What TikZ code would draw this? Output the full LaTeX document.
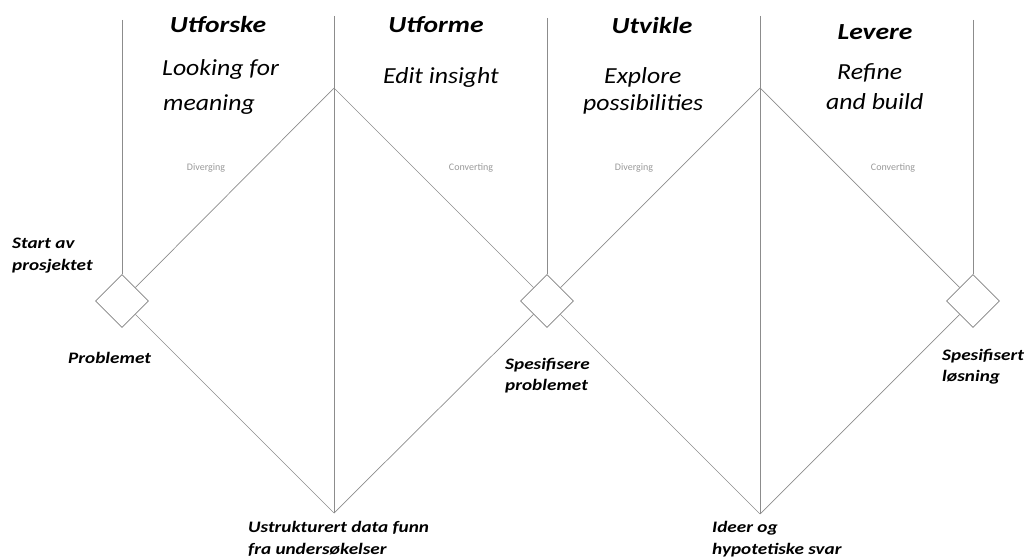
\documentclass[tikz,border=0pt]{standalone}
\usepackage{fontspec}
\setmainfont{Carlito}
\newfontfamily\labfont{Carlito}[FakeStretch=1.2,BoldItalicFont={Carlito Bold Italic}]
\newfontfamily\subfont{Carlito}[FakeStretch=1.12]
\usetikzlibrary{shapes.geometric}
\begin{document}
\begin{tikzpicture}[x=1pt,y=-1pt,
  ln/.style={draw=black!45,line width=0.7pt},
  dia/.style={diamond,draw=black!50,line width=0.7pt,inner sep=0pt,minimum width=53pt,minimum height=53pt,aspect=1},
  head/.style={font=\labfont\fontsize{23}{23}\selectfont\bfseries\itshape,anchor=base,inner sep=0pt},
  sub/.style={font=\subfont\fontsize{23}{23}\selectfont\itshape,anchor=base west,inner sep=0pt},
  lab/.style={font=\labfont\fontsize{16}{16}\selectfont\bfseries\itshape,anchor=base west,inner sep=0pt},
  tiny/.style={font=\fontsize{10}{10}\selectfont,text=black!40,inner sep=0pt}]
\useasboundingbox (0,0) rectangle (1029,559);
% diamonds
\node[dia] (d1) at (122,301) {};
\node[dia] (d2) at (547,301) {};
\node[dia] (d3) at (973,301) {};
% apexes and tops
\coordinate (a1) at (334,88);
\coordinate (a2) at (760,88);
\coordinate (b1) at (334,513);
\coordinate (b2) at (760,514);
\coordinate (t1) at (122,20);
\coordinate (t2) at (334,16);
\coordinate (t3) at (547,18);
\coordinate (t4) at (760,16);
\coordinate (t5) at (973,20);
% vertical lines
\draw[ln] (t1) -- (d1.north);
\draw[ln] (t2) -- (b1);
\draw[ln] (t3) -- (d2.north);
\draw[ln] (t4) -- (b2);
\draw[ln] (t5) -- (d3.north);
% diamond edges
\draw[ln] (d1) -- (a1);
\draw[ln] (d1) -- (b1);
\draw[ln] (a1) -- (d2);
\draw[ln] (b1) -- (d2);
\draw[ln] (d2) -- (a2);
\draw[ln] (d2) -- (b2);
\draw[ln] (a2) -- (d3);
\draw[ln] (b2) -- (d3);
% headings
\node[head] (h1) at (218,33) {Utforske};
\node[head] (h2) at (436,33) {Utforme};
\node[head] (h3) at (652,34) {Utvikle};
\node[head] (h4) at (875,40) {Levere};
\node[sub] (s1a) at (162,76) {Looking for};
\node[sub] (s1b) at (163,111) {meaning};
\node[sub] (s2) at (383,84) {Edit insight};
\node[sub] (s3a) at (604,84) {Explore};
\node[sub] (s3b) at (583,111) {possibilities};
\node[sub] (s4a) at (837,80) {Refine};
\node[sub] (s4b) at (826,110) {and build};
% small labels
\node[tiny] (g1) at (206,168) {Diverging};
\node[tiny] (g2) at (471,168) {Converting};
\node[tiny] (g3) at (634,168) {Diverging};
\node[tiny] (g4) at (893,168) {Converting};
% labels
\node[lab] (l1a) at (12,248) {Start av};
\node[lab] (l1b) at (12,270) {prosjektet};
\node[lab] (l2) at (68,363) {Problemet};
\node[lab] (l3a) at (505,369) {Spesifisere};
\node[lab] (l3b) at (505,390) {problemet};
\node[lab] (l4a) at (942,360) {Spesifisert};
\node[lab] (l4b) at (942,381) {løsning};
\node[lab] (l5a) at (248,532) {Ustrukturert data funn};
\node[lab] (l5b) at (248,554) {fra undersøkelser};
\node[lab] (l6a) at (712,532) {Ideer og};
\node[lab] (l6b) at (712,554) {hypotetiske svar};
\end{tikzpicture}
\end{document}
